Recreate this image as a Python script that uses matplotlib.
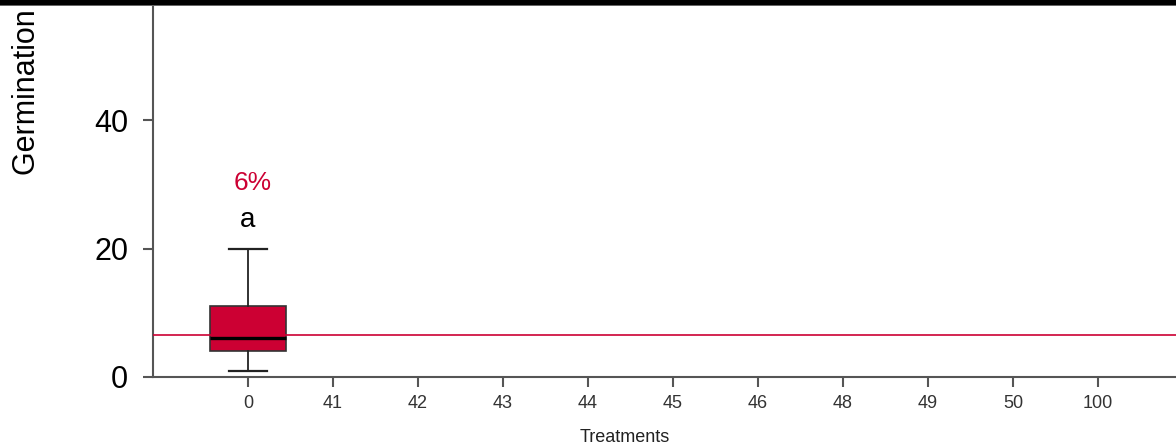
import matplotlib
matplotlib.use("Agg")
import matplotlib.pyplot as plt
from matplotlib.patches import Rectangle

# ---------------------------------------------
#  DATA
# ---------------------------------------------
treatments = ["0", "41", "42", "43", "44", "45", "46", "48", "49", "50", "100"]
box_label = "0"
whis_low = 1
q1 = 4
median = 6
q3 = 11
whis_high = 20
mean_line = 6.5
pct_text = "6%"
group_letter = "a"
y_ticks = [0, 20, 40]

RED = "#CC0033"
W, H = 1176, 447

fig = plt.figure(figsize=(W / 100, H / 100), dpi=100)
fig.patch.set_facecolor("white")

# axes geometry in pixels (origin top-left)
px_left, px_zero = 153, 377
px_per_x, px_per_y = 85.0, 6.425
x0_px = 248
ax = fig.add_axes([px_left / W, (H - px_zero) / H, (W - px_left) / W, px_zero / H])
ax.set_xlim((px_left - x0_px) / px_per_x, (W - x0_px) / px_per_x)
ax.set_ylim(0, px_zero / px_per_y)

positions = list(range(len(treatments)))
idx = treatments.index(box_label)
stats = [dict(label=box_label, whislo=whis_low, q1=q1, med=median,
              q3=q3, whishi=whis_high, fliers=[])]
ax.bxp(stats, positions=[positions[idx]], widths=0.9, patch_artist=True,
       showfliers=False, manage_ticks=False,
       boxprops=dict(facecolor=RED, edgecolor="#333333", linewidth=1.2),
       medianprops=dict(color="black", linewidth=2.4),
       whiskerprops=dict(color="#222222", linewidth=1.3),
       capprops=dict(color="#222222", linewidth=1.6),
       capwidths=0.45, zorder=3)

ax.axhline(mean_line, color=RED, linewidth=1.2, zorder=4)

ax.text(positions[idx] + 0.06, 30.2, pct_text, color=RED, fontsize=19,
        ha="center", va="center", family="Liberation Sans")
ax.text(positions[idx], 24.5, group_letter, color="black", fontsize=20,
        ha="center", va="center", family="Liberation Sans")

# axes styling
for s in ["top", "right"]:
    ax.spines[s].set_visible(False)
for s in ["left", "bottom"]:
    ax.spines[s].set_color("#555555")
    ax.spines[s].set_linewidth(1.5)

ax.set_yticks(y_ticks)
ax.set_yticklabels([str(v) for v in y_ticks], fontsize=22, family="Liberation Sans")
ax.tick_params(axis="y", length=7, width=1.5, color="#555555", pad=11)

ax.set_xticks(positions)
ax.set_xticklabels(treatments, fontsize=13, color="#333333",
                   family=["Liberation Sans Narrow", "Liberation Sans"])
ax.tick_params(axis="x", length=7, width=1.5, color="#555555", pad=6)

fig.text(625 / W, 1 - 437 / H, "Treatments", fontsize=13, color="#222222",
         ha="center", va="center",
         family=["Liberation Sans Narrow", "Liberation Sans"])

fig.text(27 / W, 1 - 175 / H, "Germination (%)", fontsize=22, rotation=90,
         ha="center", va="bottom", family="Liberation Sans")

# black title band at the top edge
fig.add_artist(Rectangle((0, 1 - 5 / H), 1, 5 / H, transform=fig.transFigure,
                         facecolor="black", edgecolor="none", zorder=10))
fig.add_artist(Rectangle((0, 1 - 6 / H), 1, 1 / H, transform=fig.transFigure,
                         facecolor="#666666", edgecolor="none", zorder=10))

fig.savefig("out.png", dpi=100)
